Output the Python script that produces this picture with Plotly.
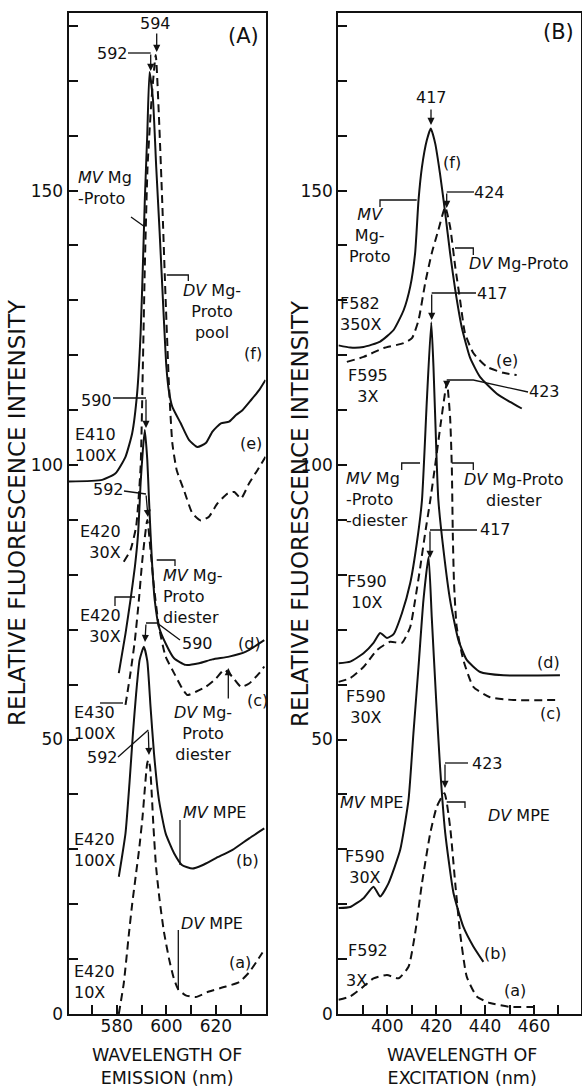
import plotly.graph_objects as go

W, H = 582, 1087

# ---------------- Panel A : emission spectra (nm, relative intensity)
a_f_x = [560.6, 574.1, 579.5, 583.5, 586.2, 588.2, 589.6, 590.5, 591.3, 592.3, 593.2, 594.6, 595.9, 597.3,
         598.6, 600.0, 601.0, 602.4, 605.8, 609.1, 612.5, 615.9, 618.6, 622.0, 625.3, 628.1, 630.7, 634.1,
         637.5, 640.0]
a_f_y = [97.0, 97.3, 98.5, 101.5, 105.8, 113.1, 124.0, 136.1, 148.3, 160.4, 171.6, 166.5, 154.3, 142.2,
         130.1, 117.9, 113.5, 110.6, 107.6, 104.6, 103.3, 104.0, 106.1, 107.6, 107.9, 109.1, 110.0, 111.8,
         113.7, 115.5]

a_e_x = [582.8, 585.5, 587.8, 589.6, 590.5, 591.3, 592.4, 594.0, 595.7, 597.0, 598.3, 599.7, 601.1, 602.4,
         604.2, 607.1, 610.5, 613.9, 617.2, 620.6, 624.7, 627.4, 630.1, 633.4, 636.8, 640.0]
a_e_y = [82.4, 84.5, 88.8, 99.7, 117.9, 136.1, 154.3, 166.5, 174.7, 163.4, 148.3, 130.1, 114.0, 104.0,
         99.0, 95.4, 91.2, 89.9, 90.6, 93.0, 94.8, 95.1, 93.9, 96.7, 99.1, 101.5]

a_d_x = [580.8, 583.5, 585.5, 587.3, 588.6, 589.6, 590.5, 591.3, 592.3, 593.0, 593.6, 594.3, 595.3, 597.0,
         599.7, 603.1, 607.8, 613.2, 618.6, 625.3, 632.1, 639.5]
a_d_y = [62.1, 69.3, 75.4, 81.5, 87.6, 96.7, 102.7, 106.4, 100.9, 93.6, 87.6, 81.5, 75.4, 70.5,
         67.5, 64.8, 63.6, 63.9, 64.6, 65.1, 66.0, 68.1]

a_c_x = [583.5, 585.5, 587.3, 588.9, 590.3, 592.3, 593.6, 595.0, 597.0, 599.7, 603.1, 606.4, 608.5, 611.9,
         615.9, 620.0, 623.3, 626.7, 630.1, 633.4, 637.5, 639.5]
a_c_y = [56.3, 62.1, 68.1, 75.4, 82.7, 90.0, 84.5, 77.8, 70.5, 65.1, 62.1, 59.3, 58.1, 58.7,
         59.6, 61.1, 62.7, 61.4, 59.6, 60.2, 62.1, 63.3]

a_b_x = [580.8, 583.5, 585.1, 586.5, 587.8, 589.2, 590.9, 592.3, 593.6, 595.0, 597.0, 599.7, 603.1, 606.4,
         610.5, 614.5, 620.0, 626.7, 633.4, 639.5]
a_b_y = [25.0, 32.9, 42.0, 51.1, 58.4, 64.5, 66.9, 64.3, 56.0, 47.5, 39.0, 32.9, 29.3, 27.1,
         26.5, 27.1, 28.4, 29.9, 32.0, 33.8]

a_a_x = [580.8, 582.8, 584.9, 586.2, 587.6, 589.0, 590.4, 591.3, 592.2, 592.7, 593.4, 594.1, 594.8, 595.8,
         597.2, 599.0, 601.1, 603.0, 604.8, 607.8, 611.9, 617.2, 624.0, 629.4, 633.4, 636.2, 638.8]
a_a_y = [0.0, 5.6, 14.7, 20.0, 25.0, 30.0, 36.0, 41.0, 45.5, 46.3, 45.0, 40.0, 34.0, 27.0,
         21.0, 15.0, 10.0, 6.5, 4.5, 3.4, 3.1, 4.1, 5.0, 5.8, 7.6, 9.4, 11.2]

# ---------------- Panel B : excitation spectra
b_f_x = [380.1, 384.9, 390.3, 397.1, 402.6, 406.7, 409.4, 411.4, 412.8, 414.2, 416.2, 417.8, 419.6, 421.6,
         423.7, 425.7, 427.8, 430.5, 433.9, 438.0, 444.8, 450.2, 455.0]
b_f_y = [121.8, 121.4, 121.5, 122.5, 124.6, 128.2, 132.5, 138.6, 148.3, 154.3, 159.2, 161.3, 158.6, 153.0,
         145.9, 138.6, 131.9, 125.0, 119.5, 116.0, 113.0, 111.5, 110.3]

b_e_x = [383.5, 390.3, 398.5, 406.7, 410.1, 412.8, 415.5, 418.2, 420.9, 423.7, 425.7, 427.8, 429.8, 431.8,
         435.2, 440.7, 447.5, 452.9]
b_e_y = [118.8, 119.7, 121.3, 122.2, 123.1, 126.4, 133.1, 138.6, 142.8, 147.0, 143.4, 136.1, 130.0, 124.0,
         120.4, 117.9, 116.8, 116.4]

b_d_x = [380.1, 384.9, 390.3, 394.4, 397.1, 399.9, 402.6, 406.0, 409.4, 412.1, 414.2, 416.2, 418.0, 418.9,
         420.3, 420.9, 423.0, 425.7, 429.1, 432.5, 438.0, 447.5, 470.6]
b_d_y = [63.9, 64.2, 65.7, 67.6, 69.4, 68.5, 69.2, 73.0, 78.5, 85.8, 93.6, 111.8, 126.0, 117.9,
         99.6, 93.6, 84.5, 75.4, 68.1, 64.5, 62.3, 61.7, 61.7]

b_c_x = [380.1, 384.9, 390.3, 395.8, 401.2, 406.0, 409.4, 411.4, 413.5, 415.5, 417.6, 419.6, 422.0, 424.4,
         425.7, 426.4, 426.8, 427.3, 428.4, 431.1, 435.2, 442.0, 451.6, 470.6]
b_c_y = [60.5, 61.2, 63.2, 66.3, 67.8, 67.6, 70.5, 75.4, 81.4, 87.6, 93.6, 100.0, 108.0, 115.0,
         108.7, 99.6, 87.6, 78.5, 70.5, 64.5, 59.6, 57.7, 57.2, 57.2]

b_b_x = [380.1, 384.9, 390.3, 394.4, 397.1, 400.5, 405.3, 408.7, 410.7, 412.8, 414.8, 416.9, 418.2, 420.0,
         421.6, 423.7, 427.1, 431.1, 435.2, 439.3]
b_b_y = [19.3, 19.5, 21.1, 23.2, 21.4, 23.8, 29.9, 39.0, 51.1, 63.3, 75.4, 83.3, 72.3, 57.2,
         45.0, 33.0, 22.0, 15.9, 12.3, 9.5]

b_a_x = [380.1, 384.9, 390.3, 394.4, 399.9, 404.6, 408.7, 411.4, 414.2, 417.6, 420.3, 423.4, 425.7, 427.8,
         429.8, 432.5, 436.6, 442.0, 450.2, 461.1]
b_a_y = [2.6, 3.2, 5.0, 6.5, 7.1, 6.5, 8.6, 14.7, 23.8, 33.0, 37.8, 40.2, 34.1, 23.8,
         14.7, 6.8, 3.2, 2.0, 1.3, 1.3]

y_ticks = list(range(0, 190, 10))
y_labels = ["0", "50", "100", "150"]
a_ticks = list(range(570, 640, 10))
a_labels = ["580", "600", "620"]
b_ticks = list(range(390, 480, 10))
b_labels = ["400", "420", "440", "460"]

FONT = "DejaVu Sans"
BLACK = "#111"


def P(px, py):
    return px / W, 1 - py / H


fig = go.Figure()

series = [
    (a_f_x, a_f_y, "solid", "x", "y"), (a_e_x, a_e_y, "dash", "x", "y"),
    (a_d_x, a_d_y, "solid", "x", "y"), (a_c_x, a_c_y, "dash", "x", "y"),
    (a_b_x, a_b_y, "solid", "x", "y"), (a_a_x, a_a_y, "dash", "x", "y"),
    (b_f_x, b_f_y, "solid", "x2", "y2"), (b_e_x, b_e_y, "dash", "x2", "y2"),
    (b_d_x, b_d_y, "solid", "x2", "y2"), (b_c_x, b_c_y, "dash", "x2", "y2"),
    (b_b_x, b_b_y, "solid", "x2", "y2"), (b_a_x, b_a_y, "dash", "x2", "y2"),
]
for xs, ys, style, xa, ya in series:
    fig.add_trace(go.Scatter(
        x=xs, y=ys, xaxis=xa, yaxis=ya, mode="lines",
        line=dict(color=BLACK, width=2, shape="spline", smoothing=0.5,
                  dash="solid" if style == "solid" else "8px,5px"),
        showlegend=False, hoverinfo="skip"))


def tick_text(vals, labels):
    return [str(v) if str(v) in labels else "" for v in vals]


ax_common = dict(showgrid=False, zeroline=False, showline=True, linecolor=BLACK, linewidth=2,
                 mirror=True, ticks="inside", ticklen=9, tickwidth=1.5, tickcolor=BLACK,
                 automargin=False, tickfont=dict(family=FONT, size=17, color=BLACK))

fig.update_layout(
    width=W, height=H, margin=dict(l=0, r=0, t=0, b=0, autoexpand=False),
    paper_bgcolor="white", plot_bgcolor="white",
    xaxis=dict(domain=[68.5 / W, 265.5 / W], range=[560.5, 640], anchor="y", ticklabelstandoff=-4,
               tickvals=a_ticks, ticktext=tick_text(a_ticks, a_labels), **ax_common),
    yaxis=dict(domain=[1 - 1014 / H, 1 - 12.7 / H], range=[0, 182.4], anchor="x",
               tickvals=y_ticks, ticktext=tick_text(y_ticks, y_labels), **ax_common),
    xaxis2=dict(domain=[338.3 / W, 580.5 / W], range=[380, 479], anchor="y2", ticklabelstandoff=-4,
                tickvals=b_ticks, ticktext=tick_text(b_ticks, b_labels), **ax_common),
    yaxis2=dict(domain=[1 - 1014 / H, 1 - 12.7 / H], range=[0, 182.4], anchor="x2",
                tickvals=y_ticks, ticktext=tick_text(y_ticks, y_labels), **ax_common),
)

# text labels: (text, px, py, anchor) ; px/py = pixel position, anchor = l / c / r
labels = [
    ("594", 155, 23, "c"), ("592", 112, 53, "c"),
    ("<i>MV</i> Mg<br>-Proto", 76, 188, "l"),
    ("<i>DV</i> Mg-<br>Proto<br>pool", 212, 311, "c"),
    ("(f)", 253, 353, "c"), ("590", 96, 400, "c"),
    ("E410<br>100X", 73, 445, "l"), ("(e)", 251, 443, "c"),
    ("592", 108, 490, "c"), ("E420<br>30X", 123, 542, "r"),
    ("<i>MV</i> Mg-<br>Proto<br>diester", 161, 596, "l"),
    ("E420<br>30X", 123, 626, "r"), ("590", 197, 643, "c"), ("(d)", 250, 643, "c"),
    ("(c)", 257, 700, "c"), ("<i>DV</i> Mg-<br>Proto<br>diester", 203, 733, "c"),
    ("E430<br>100X", 72, 723, "l"), ("592", 102, 757, "c"),
    ("<i>MV</i> MPE", 214, 812, "c"), ("(b)", 247, 860, "c"), ("E420<br>100X", 72, 850, "l"),
    ("<i>DV</i> MPE", 212, 923, "c"), ("(a)", 240, 962, "c"), ("E420<br>10X", 72, 982, "l"),

    ("417", 431.7, 97, "c"), ("(f)", 452, 163, "c"), ("424", 489, 193, "c"),
    ("<i>MV</i><br>Mg-<br>Proto", 369, 236, "c"),
    ("<i>DV</i> Mg-Proto", 519, 263, "c"), ("417", 492, 293, "c"),
    ("F582<br>350X", 338, 314, "l"), ("(e)", 507, 360, "c"), ("F595<br>3X", 368, 386, "c"),
    ("423", 544, 392, "c"), ("<i>MV</i> Mg<br>-Proto<br>-diester", 344, 500, "l"),
    ("<i>DV</i> Mg-Proto<br>diester", 514, 490, "c"),
    ("417", 495, 530, "c"), ("F590<br>10X", 367, 592, "c"), ("(d)", 548, 662, "c"),
    ("F590<br>30X", 366, 707, "c"), ("(c)", 550, 713, "c"),
    ("423", 487, 763, "c"), ("<i>MV</i> MPE", 372, 802, "c"), ("<i>DV</i> MPE", 519, 815, "c"),
    ("F590<br>30X", 365, 867, "c"), ("(b)", 495, 953, "c"), ("F592", 368, 950, "c"), ("3X", 356, 980, "c"),
    ("(a)", 515, 990, "c"),
]
anchors = {"l": "left", "c": "center", "r": "right"}
ann = []
for t, px, py, an in labels:
    x, y = P(px, py)
    ann.append(dict(text=t, x=x, y=y, xref="paper", yref="paper", showarrow=False,
                    xanchor=anchors[an], yanchor="middle", align=anchors[an],
                    font=dict(family=FONT, size=16, color=BLACK)))

for t, px, py in (("(A)", 243, 36), ("(B)", 558, 32)):
    x, y = P(px, py)
    ann.append(dict(text=t, x=x, y=y, xref="paper", yref="paper", showarrow=False,
                    xanchor="center", yanchor="middle", font=dict(family=FONT, size=21, color=BLACK)))

# axis titles
for px in (17, 300):
    x, y = P(px, 513)
    ann.append(dict(text="RELATIVE FLUORESCENCE INTENSITY", x=x, y=y, xref="paper", yref="paper",
                    textangle=-90, showarrow=False, xanchor="center", yanchor="middle",
                    font=dict(family=FONT, size=23, color=BLACK)))
for px, t in ((167, "WAVELENGTH OF<br>EMISSION (nm)"), (462, "WAVELENGTH OF<br>EXCITATION (nm)")):
    x, y = P(px, 1066)
    ann.append(dict(text=t, x=x, y=y, xref="paper", yref="paper", showarrow=False,
                    xanchor="center", yanchor="middle",
                    font=dict(family=FONT, size=17.5, color=BLACK)))

# arrows: (tail px, tail py, head px, head py)
arrows = [
    (156.7, 32, 156.7, 52), (150.7, 53, 150.7, 71), (146, 398, 146, 428), (146, 494, 148, 517),
    (146, 623, 145, 642), (228.3, 700, 228.3, 668), (148.3, 730, 149, 755),
    (431, 108, 431, 125), (446.7, 192, 446.7, 208), (431.7, 293, 431.7, 320),
    (446.7, 380, 446.7, 388), (430, 530, 430, 558), (445, 763, 445, 788),
]
for tx, ty, hx, hy in arrows:
    x, y = P(hx, hy)
    ann.append(dict(text="", x=x, y=y, xref="paper", yref="paper", showarrow=True,
                    ax=tx - hx, ay=ty - hy, arrowhead=2, arrowsize=1.1, arrowwidth=1.3,
                    arrowcolor=BLACK))
fig.update_layout(annotations=ann)

# leader lines / brackets (pixel polylines)
leaders = [
    [(128, 53), (150.7, 53)], [(131, 217), (145, 227)], [(166.7, 275), (188.3, 275), (188.3, 281)],
    [(113, 398), (146, 398)], [(124, 491), (146, 494)],
    [(156.7, 560), (175, 560), (175, 566)], [(115, 606), (115, 597), (135, 597)],
    [(180, 640), (157, 623), (146, 623)], [(100, 703), (123, 703)], [(118, 757), (148.3, 730)],
    [(180, 820), (180, 865)], [(178.3, 930), (178.3, 990)],
    [(474, 192), (446.7, 192)], [(380, 207), (380, 200), (416.7, 200)],
    [(455, 248), (473.3, 248), (473.3, 255)], [(476, 293), (431.7, 293)],
    [(528, 392), (473.3, 380), (446.7, 380)], [(401.7, 470), (401.7, 463), (420, 463)],
    [(451.7, 463), (473.3, 463), (473.3, 470)], [(477, 530), (430, 530)],
    [(468, 763), (445, 763)], [(446.7, 802), (465, 802), (465, 808)],
]
shapes = []
for pts in leaders:
    path = ""
    for i, (px, py) in enumerate(pts):
        x, y = P(px, py)
        path += ("M" if i == 0 else "L") + f"{x:.5f},{y:.5f} "
    shapes.append(dict(type="path", path=path.strip(), xref="paper", yref="paper",
                       line=dict(color=BLACK, width=1.3)))
fig.update_layout(shapes=shapes)

fig.write_html("out.html", config={"displayModeBar": False},
               post_script="document.body.style.margin='0';")
